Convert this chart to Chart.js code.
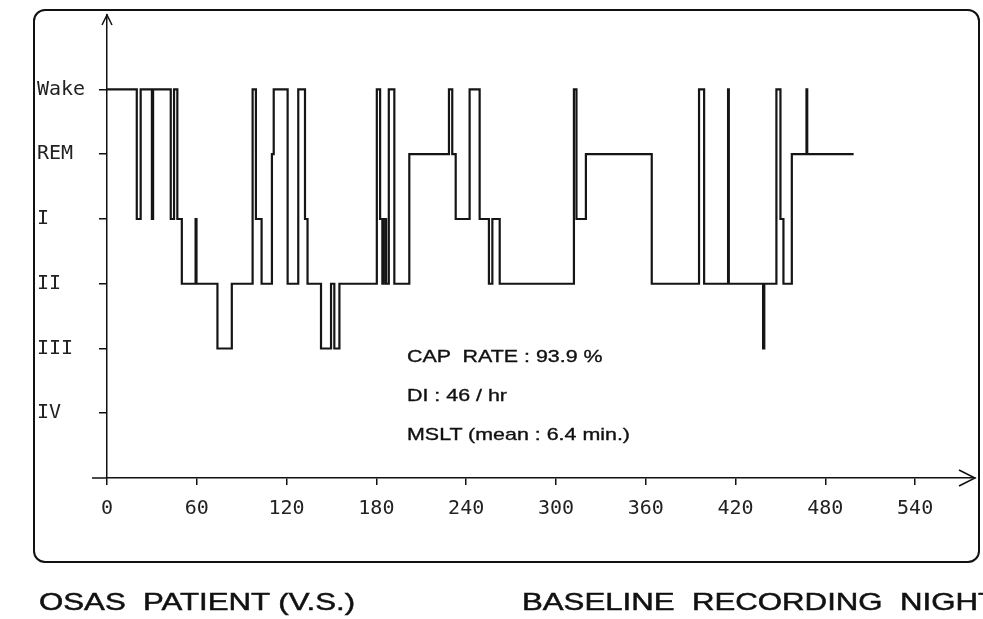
<!DOCTYPE html>
<html>
<head>
<meta charset="utf-8">
<title>Hipnograma OSAS</title>
<script src="https://cdn.jsdelivr.net/npm/chart.js@4.4.1/dist/chart.umd.min.js"></script>
<style>
  body { margin: 0; background: #fff; width: 983px; height: 619px; overflow: hidden; position: relative; font-family: "Liberation Sans", Arial, sans-serif; color: #111; }
  #moldura { position: absolute; left: 33px; top: 9px; width: 947px; height: 554px; box-sizing: border-box; border: 2px solid #111; border-radius: 12px; }
  canvas { position: absolute; left: 0; top: 0; }
  .nota { position: absolute; left: 407px; font-size: 17px; line-height: 17px; white-space: pre; transform: scaleX(1.26); transform-origin: left center; -webkit-text-stroke: 0.35px #111; }
  .rodape { position: absolute; top: 590px; font-size: 24px; line-height: 24px; white-space: pre; transform: scaleX(1.3); transform-origin: left center; -webkit-text-stroke: 0.5px #111; }
</style>
</head>
<body>
<div id="moldura"></div>
<canvas id="hipnograma" width="983" height="619"></canvas>
<div class="nota" style="top:348px">CAP  RATE : 93.9 %</div>
<div class="nota" style="top:387px">DI : 46 / hr</div>
<div class="nota" style="top:426px">MSLT (mean : 6.4 min.)</div>
<div class="rodape" style="left:39px">OSAS  PATIENT (V.S.)</div>
<div class="rodape" style="left:522px">BASELINE  RECORDING  NIGHT</div>

<script>
// ===============================
// Dados do hipnograma (minuto de início de cada estágio)
// ===============================
const minutos = [
  0, 19.9, 22.5, 30.0, 30.8, 42.6, 44.8, 47.0, 50.0, 59.2, 59.8,
  73.8, 83.4, 97.3, 99.5, 103.3, 110.2, 111.4, 120.7, 127.8, 132.3, 134.0,
  143.0, 149.7, 151.9, 155.3, 180.3, 182.5, 184.0, 185.0, 186.5, 188.3, 192.0,
  202.0, 228.5, 230.7, 233.0, 242.3, 249.0, 255.2, 257.5, 262.4, 312.0, 313.7,
  320.0, 364.0, 395.6, 399.0, 415.0, 415.5, 438.4, 439.2, 447.3, 450.0, 452.0,
  457.6, 467.4, 467.9, 498.9
];
const estagios = [
  'Wake', 'I', 'Wake', 'I', 'Wake', 'I', 'Wake', 'I', 'II', 'I', 'II',
  'III', 'II', 'Wake', 'I', 'II', 'REM', 'Wake', 'II', 'Wake', 'I', 'II',
  'III', 'II', 'III', 'II', 'Wake', 'I', 'II', 'I', 'II', 'Wake', 'II',
  'REM', 'Wake', 'REM', 'I', 'Wake', 'I', 'II', 'I', 'II', 'Wake', 'I',
  'REM', 'II', 'Wake', 'II', 'Wake', 'II', 'III', 'II', 'Wake', 'I', 'II',
  'REM', 'Wake', 'REM', 'REM'
];
// rótulos do eixo Y, de baixo para cima (valor = índice + 1)
const rotulosEstagio = ['IV', 'III', 'II', 'I', 'REM', 'Wake'];
const ticksMinutos = [0, 60, 120, 180, 240, 300, 360, 420, 480, 540];

function nivel(nome) {
  return rotulosEstagio.indexOf(nome) + 1;
}

const pontos = minutos.map((m, i) => ({ x: m, y: nivel(estagios[i]) }));

// setas nas pontas dos eixos
const setasEixos = {
  id: 'setasEixos',
  afterDraw(chart) {
    const { ctx, chartArea: a } = chart;
    ctx.save();
    ctx.strokeStyle = '#111';
    ctx.lineWidth = 1.5;
    ctx.beginPath();
    // prolonga o eixo x um pouco à esquerda
    ctx.moveTo(a.left - 15, a.bottom);
    ctx.lineTo(a.left, a.bottom);
    // seta do eixo y
    ctx.moveTo(a.left - 5, a.top + 10);
    ctx.lineTo(a.left, a.top);
    ctx.lineTo(a.left + 5, a.top + 10);
    // seta do eixo x
    ctx.moveTo(a.right - 16, a.bottom - 8);
    ctx.lineTo(a.right, a.bottom);
    ctx.lineTo(a.right - 16, a.bottom + 8);
    ctx.stroke();
    ctx.restore();
  }
};

const fonteEixo = { family: '"DejaVu Sans Mono", "Liberation Mono", monospace', size: 20 };

new Chart(document.getElementById('hipnograma'), {
  type: 'line',
  data: {
    datasets: [{
      data: pontos,
      stepped: 'before',
      borderColor: '#151515',
      borderWidth: 2.2,
      pointRadius: 0,
      fill: false
    }]
  },
  options: {
    responsive: false,
    animation: false,
    devicePixelRatio: 1,
    layout: { padding: { left: 37, top: 15, right: 8, bottom: 81 } },
    plugins: { legend: { display: false }, tooltip: { enabled: false } },
    scales: {
      x: {
        type: 'linear',
        min: 0,
        max: 580,
        afterBuildTicks: s => { s.ticks = ticksMinutos.map(v => ({ value: v })); },
        afterFit: s => { s.height = 60; },
        border: { display: true, color: '#111', width: 1.5 },
        grid: { drawOnChartArea: false, drawTicks: true, tickLength: 7, color: '#111', lineWidth: 1.5 },
        ticks: { color: '#222', font: fonteEixo, padding: 12, maxRotation: 0, autoSkip: false }
      },
      y: {
        type: 'linear',
        min: 0,
        max: 7.15,
        afterBuildTicks: s => { s.ticks = rotulosEstagio.map((r, i) => ({ value: i + 1 })); },
        afterFit: s => { s.width = 70; },
        border: { display: true, color: '#111', width: 1.5 },
        grid: { drawOnChartArea: false, drawTicks: true, tickLength: 8, color: '#111', lineWidth: 1.5 },
        ticks: {
          color: '#222',
          font: fonteEixo,
          crossAlign: 'far',
          autoSkip: false,
          callback: v => rotulosEstagio[v - 1] || ''
        }
      }
    }
  },
  plugins: [setasEixos]
});
</script>
</body>
</html>
